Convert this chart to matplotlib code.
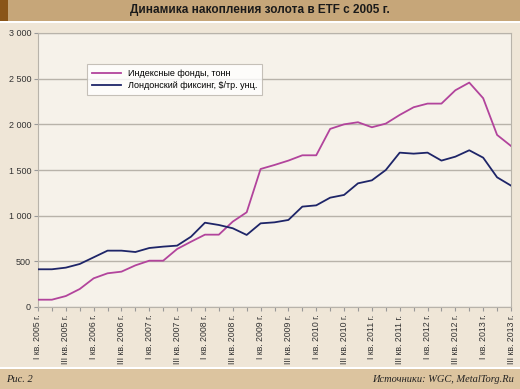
import matplotlib.pyplot as plt
import matplotlib.patches as patches
import numpy as np

plt.rcParams["font.family"] = ["Liberation Sans", "DejaVu Sans"]

# quarters I 2005 .. III 2013
quarters = []
for year in range(2005, 2014):
    for q in ["I", "II", "III", "IV"]:
        quarters.append("%s кв. %d г." % (q, year))
quarters = quarters[:35]

etf_tonnes = [80, 80, 120, 197, 314, 369, 387, 456, 507, 507,
              635, 715, 792, 792, 935, 1037, 1511, 1555, 1603, 1661,
              1661, 1950, 2000, 2023, 1968, 2008, 2103, 2187, 2227, 2227,
              2373, 2457, 2286, 1884, 1763]
london_fix = [413, 413, 431, 471, 544, 617, 617, 602, 646, 661,
              672, 770, 923, 898, 862, 789, 916, 927, 953, 1099,
              1113, 1197, 1227, 1354, 1387, 1500, 1690, 1679, 1690, 1603,
              1646, 1716, 1635, 1420, 1329]

y_ticks = [0, 500, 1000, 1500, 2000, 2500, 3000]
y_labels = ["0", "500", "1 000", "1 500", "2 000", "2 500", "3 000"]

fig = plt.figure(figsize=(5.2, 3.89), dpi=100)
fig.patch.set_facecolor("#EFE6D7")

# title bar and bottom bar, with thin white separators
H = 389.0
fig.patches.append(patches.Rectangle((0, 1 - 23 / H), 1, 2 / H, transform=fig.transFigure,
                                     facecolor="white", edgecolor="none", zorder=0))
fig.patches.append(patches.Rectangle((0, 1 - 21 / H), 1, 21 / H, transform=fig.transFigure,
                                     facecolor="#C6A679", edgecolor="none", zorder=0))
fig.patches.append(patches.Rectangle((0, 1 - 21 / H), 8 / 520, 21 / H, transform=fig.transFigure,
                                     facecolor="#8A5518", edgecolor="none", zorder=1))
fig.patches.append(patches.Rectangle((0, 20 / H), 1, 2 / H, transform=fig.transFigure,
                                     facecolor="white", edgecolor="none", zorder=0))
fig.patches.append(patches.Rectangle((0, 0), 1, 20 / H, transform=fig.transFigure,
                                     facecolor="#DCC49F", edgecolor="none", zorder=0))
fig.text(0.5, 1 - 10.5 / H, "Динамика накопления золота в ETF с 2005 г.",
         ha="center", va="center", fontsize=8.5, fontweight="bold", color="#1A1A1A")
fig.text(6 / 520, 10 / H, "Рис. 2", ha="left", va="center", fontsize=7.5,
         family="Liberation Serif", style="italic", color="#222222")
fig.text(514 / 520, 10 / H, "Источники: WGC, MetalTorg.Ru", ha="right", va="center",
         fontsize=7.5, family="Liberation Serif", style="italic", color="#222222")

ax = fig.add_axes([38 / 520, 1 - 307 / H, 473 / 520, 274 / H])
ax.set_facecolor("#F6F2EA")

x = np.arange(len(quarters))
ax.plot(x, etf_tonnes, color="#B2449C", lw=1.3, label="Индексные фонды, тонн", zorder=3)
ax.plot(x, london_fix, color="#1E2568", lw=1.3, label="Лондонский фиксинг, $/тр. унц.", zorder=3)

ax.set_xlim(0, len(quarters) - 1)
ax.set_ylim(0, 3000)
ax.set_yticks(y_ticks)
ax.set_yticklabels(y_labels)
ax.yaxis.grid(True, color="#B8B3AA", lw=1)
ax.set_axisbelow(True)

ax.set_xticks(x)
ax.set_xticklabels([q if i % 2 == 0 else "" for i, q in enumerate(quarters)], rotation=90)

for s in ax.spines.values():
    s.set_color("#B8B3AA")
ax.tick_params(axis="x", length=3, color="#999999", labelsize=6.3, labelcolor="#333333", pad=2.5)
ax.tick_params(axis="y", length=3, color="#999999", labelsize=6.5, labelcolor="#333333", pad=2)

leg = ax.legend(loc="upper left", bbox_to_anchor=((87 - 38) / 473, (307 - 64) / 274),
                fontsize=6.5, frameon=True, fancybox=False, handlelength=3.2,
                borderpad=0.55, labelspacing=0.35, borderaxespad=0)
leg.get_frame().set_edgecolor("#B8B3AA")
leg.get_frame().set_facecolor("white")
leg.get_frame().set_linewidth(0.8)

fig.savefig("out.png", dpi=100, facecolor=fig.get_facecolor())
